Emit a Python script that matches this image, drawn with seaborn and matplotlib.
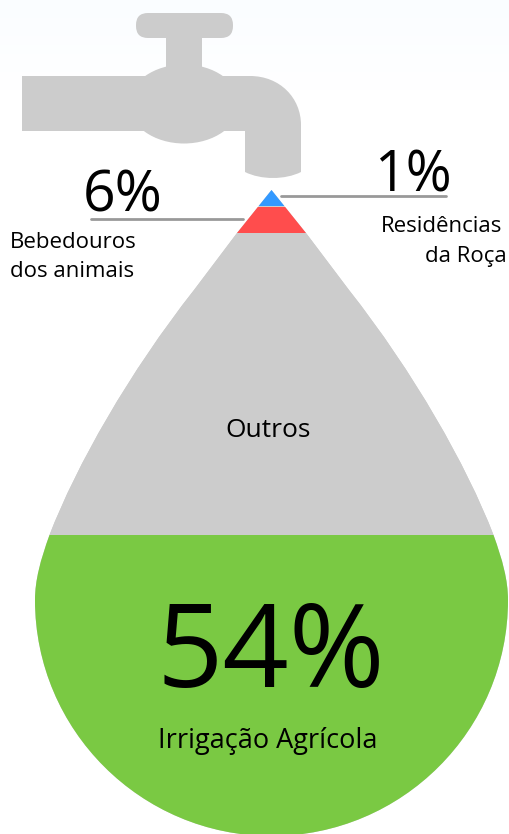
import numpy as np
import pandas as pd
import seaborn as sns
import matplotlib.pyplot as plt
from matplotlib.path import Path
from matplotlib.patches import PathPatch, FancyBboxPatch, Ellipse, Rectangle

# bands of the drop, top to bottom
categories = ['Residências da Roça', 'Bebedouros dos animais', 'Outros', 'Irrigação Agrícola']
colors = ['#3399ff', '#ff4d4d', '#cccccc', '#7ac943']
band_edges = [190, 205.5, 207, 233, 535, 837]
band_mids = [198, 220, 384, 686]

# right half of the drop outline, offset from centre line
CENTER = 271.5
BG = '#fafdff'
GREY = '#cccccc'
LINE = '#999999'

sns.set_theme(style='white')
plt.rcParams['font.family'] = ['Open Sans', 'DejaVu Sans']
plt.rcParams['text.color'] = 'black'


# Function to build the drop outline
def drop_path():
    right = [(0, 190), (34.5, 233), (77.5, 290), (142, 372), (195, 465), (222, 535),
             (231, 560), (236.5, 580), (236.5, 600), (236.5, 730), (130.6, 836), (0, 836)]
    codes = [Path.MOVETO, Path.LINETO, Path.LINETO] + [Path.CURVE4] * 9
    left = [(-dx, y) for dx, y in right[-2::-1]]
    verts = [(CENTER + dx, y) for dx, y in right + left]
    codes = codes + [Path.CURVE4] * 9 + [Path.LINETO, Path.LINETO]
    return Path(verts, codes)


# Function to draw the tap
def draw_tap(ax):
    ax.add_patch(FancyBboxPatch((148, 25), 73, 1, boxstyle='round,pad=12', fc=GREY, ec='none'))
    ax.add_patch(Rectangle((166, 30), 36, 50, fc=GREY, ec='none'))
    ax.add_patch(Ellipse((184, 104), 110, 79, fc=GREY, ec='none'))
    verts = [(22, 76), (250, 76), (280, 76), (301, 98), (301, 125), (301, 172),
             (285, 180), (261, 180), (245, 172), (245, 131), (22, 131), (22, 76)]
    codes = [Path.MOVETO, Path.LINETO, Path.CURVE4, Path.CURVE4, Path.CURVE4, Path.LINETO,
             Path.CURVE4, Path.CURVE4, Path.CURVE4, Path.LINETO, Path.LINETO, Path.CLOSEPOLY]
    ax.add_patch(PathPatch(Path(verts, codes), fc=GREY, ec='none'))


def main():
    fig, ax = plt.subplots(figsize=(5.09, 8.34), dpi=100)
    ax.set_position([0, 0, 1, 1])

    # faint blue wash at the top of the picture
    wash = np.linspace(0, 1, 100).reshape(-1, 1)
    ax.imshow(wash, extent=(0, 509, 90, 0), cmap=sns.blend_palette([BG, '#ffffff'], as_cmap=True),
              aspect='auto', zorder=0)

    draw_tap(ax)

    path = drop_path()
    ax.add_patch(PathPatch(path, fc=GREY, ec='none', zorder=1))

    df = pd.DataFrame({'band': categories, 'mid': band_mids, 'w': [509] * 4})
    sns.histplot(data=df, y='mid', weights='w', hue='band', hue_order=categories, bins=band_edges,
                 palette=colors, multiple='layer', alpha=1, linewidth=0, legend=False, ax=ax, zorder=2)
    for bar in ax.patches:
        if bar.get_zorder() == 2:
            bar.set_clip_path(path, ax.transData)

    # leader lines
    sns.lineplot(x=[91, 243], y=[218.5, 218.5], color=LINE, linewidth=2, ax=ax, zorder=3)
    sns.lineplot(x=[281, 446], y=[196, 196], color=LINE, linewidth=2, ax=ax, zorder=3)

    ax.text(123, 211, '6%', fontsize=41, ha='center', va='baseline')
    ax.text(413, 191, '1%', fontsize=40, ha='center', va='baseline')
    ax.text(10, 248, 'Bebedouros', fontsize=16, ha='left', va='baseline')
    ax.text(10, 277, 'dos animais', fontsize=16, ha='left', va='baseline')
    ax.text(502, 232, 'Residências', fontsize=16, ha='right', va='baseline')
    ax.text(507, 262, 'da Roça', fontsize=16, ha='right', va='baseline')
    ax.text(268, 437, 'Outros', fontsize=19, ha='center', va='baseline')
    ax.text(271, 687, '54%', fontsize=83.5, ha='center', va='baseline', zorder=4)
    ax.text(268, 748, 'Irrigação Agrícola', fontsize=19.5, ha='center', va='baseline', zorder=4)

    ax.set_xlim(0, 509)
    ax.set_ylim(834, 0)
    ax.set_axis_off()
    fig.savefig('out.png', dpi=100)


if __name__ == '__main__':
    main()
